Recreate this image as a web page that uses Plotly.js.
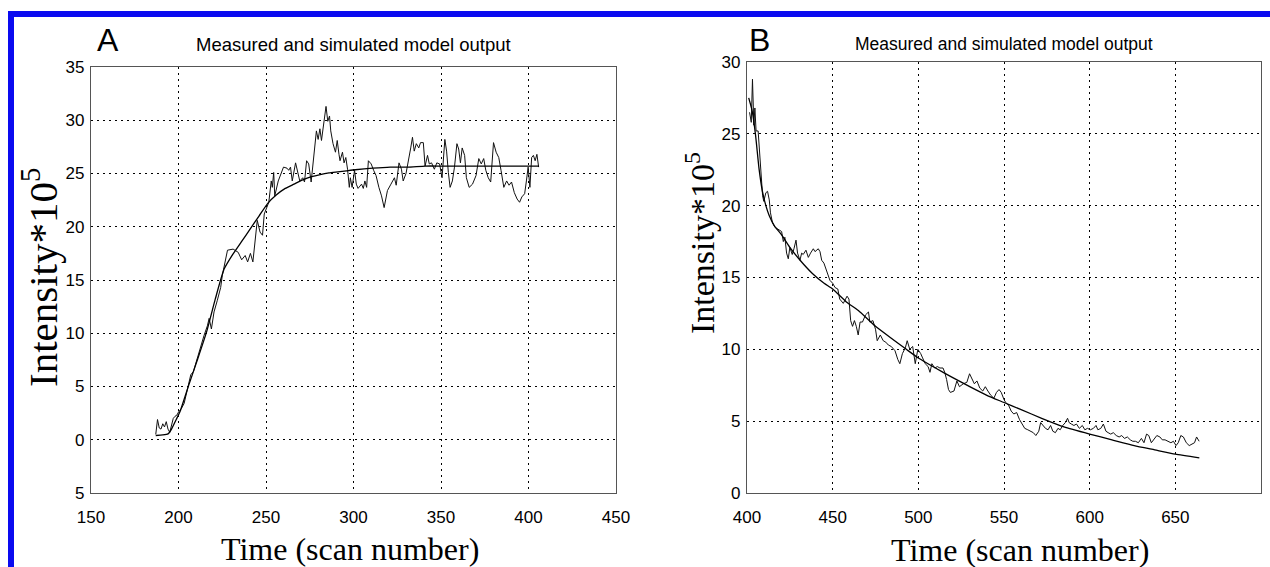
<!DOCTYPE html>
<html>
<head>
<meta charset="utf-8">
<script src="https://cdn.plot.ly/plotly-3.0.1.min.js"></script>
<style>html,body{margin:0;padding:0;background:#fff;}#chart{width:1270px;height:567px;}</style>
</head>
<body>
<div id="chart"></div>
<script>
// ---------- Panel A data ----------
const aMeasuredX = [187,188,189,190,191,192,193,194,195,196,197,198,199,200,201.5,203.2,205,206,207,208.5,209.9,211.8,213.7,214.6,216.5,217.5,218.8,220.3,222.2,224.1,225,226.9,228,231.2,234.1,236.1,238.1,239.5,241.1,242.5,244,245,246.6,248,249,250.4,251.6,253,253.6,254.4,255,257,260,262,263,264,265,266.9,268,269.3,271,272,273.2,274.4,275.8,277.8,278.8,279.8,280.8,281.7,282.7,284.3,285.3,286.3,287,288.3,289.7,290.7,291.7,292.3,293.7,294.6,295.6,296.6,297.6,298.2,299.2,300.6,301.6,302.6,304.6,305.6,306.5,307.5,308.5,310.1,311.5,312.9,314.5,316,317.5,318.5,319.4,321.4,323.4,324.4,326,327.4,328.4,330,331.3,332.7,333.7,334.7,335.9,337.3,338.3,339.9,340.9,342.3,343.3,344.6,346.2,347.6,349.2,350.6,352.2,353.2,354.2,355.2,356.5,357.7,359.1,360.1,361.1,362.1,363.5,364.5,366.1,368,370,371.6,373,374.4,375.6,377,378.4,380,381.5,383,384.3,385.9,387.5,388.9,390.3,391.9,393.5,394.9,396.2,397.8,398.8,399.8,400.8,401.8,402.8,403.8,404.8,405.8];
const aMeasuredY = [0.5,1.9,1.1,1.0,1.5,1.2,1.7,1.0,0.7,1.3,2.0,2.2,2.3,2.6,2.9,3.4,4.6,5.3,6.1,6.4,7.2,8.1,9.2,9.8,10.7,11.4,10.4,12.0,13.1,14.3,15.4,16.8,17.8,17.9,17.6,16.9,17.3,16.7,17.5,16.7,19.0,20.6,19.5,19.2,21.2,21.8,22.3,24.3,23.7,25.1,22.9,24.3,25.6,25.5,25.3,25.6,24.3,26.0,25.3,24.3,24.6,24.2,26.2,25.9,24.2,27.4,29.0,28.2,29.2,28.1,29.3,31.3,29.9,30.4,29.0,27.8,27.0,28.1,26.8,26.2,27.0,26.0,26.5,25.4,23.7,24.6,23.7,25.3,24.0,23.6,24.0,23.6,24.3,23.7,26.2,25.9,25.3,24.8,23.7,22.9,21.8,22.5,23.4,24.0,24.6,23.9,26.0,25.4,24.3,25.0,26.0,27.4,28.4,27.1,27.8,27.4,27.9,27.9,25.7,26.7,25.9,26.0,25.4,26.0,25.9,24.6,28.2,27.1,25.1,23.7,24.3,25.6,27.8,27.3,26.0,27.4,26.7,24.6,23.7,24.0,24.8,26.4,25.9,26.4,25.3,24.6,24.2,27.9,27.0,26.5,25.3,23.7,24.3,23.9,24.2,23.2,22.6,22.3,22.8,23.1,24.3,25.6,23.7,26.5,26.7,26.2,26.8,25.6];
const aModelX = [187,191,194,196,198.7,201,206,211,216,221,226,231,236,241,246,251,256,261,266,271,276,281,286,291,296,301,311,321,331,341,351,371,391,406];
const aModelY = [0.4,0.45,0.55,1.0,1.9,2.7,5.2,7.6,10.1,13.2,16.0,17.4,18.6,19.8,21.0,22.2,23.0,23.6,24.0,24.4,24.7,24.9,25.05,25.15,25.25,25.35,25.5,25.6,25.6,25.7,25.7,25.7,25.7,25.7];
const aXTicks = [150,200,250,300,350,400,450];
const aYTicks = [-5,0,5,10,15,20,25,30,35];
const aYTickText = ['5','0','5','10','15','20','25','30','35'];

// ---------- Panel B data ----------
const bMeasuredX = [401.5,402.5,403.2,404,404.6,405.3,406.5,407.1,407.9,408.5,409.1,409.8,411,412,413,413.7,414.9,416.3,417.6,419.2,420.2,421.2,422.1,423.1,424.1,425,426.4,427.4,428.6,429.5,430.9,431.9,432.8,434.4,435.8,437.1,438.7,439.7,440.6,441.6,442.6,443.6,444.9,446.1,446.9,448.4,450,451.4,453,454.1,456.2,458.4,459.5,460.5,461.6,462.7,463.8,464.9,466,467.4,469.2,470.9,471.7,473.5,475,476,477.8,479.5,481,482.5,484.2,486.4,488,489.2,490.7,492.4,493.5,495,496.7,498.2,499.7,501.4,502.5,504,505.7,506.8,507.9,509.6,511.1,512.6,514.4,515.4,516.5,517.6,518.7,520.8,522.5,524,526.2,528.3,529.9,531.1,532.7,534.2,535.9,537.6,539.1,540.6,542.3,544.1,545.6,547.1,548.4,550,551,552.7,554.2,555.7,557.4,559.1,560.6,562.1,563.9,565.6,567.1,568.6,570.3,571.4,572.9,574.2,575.7,577.2,578.5,580,581.5,582.8,584.3,585.8,587.1,588,589.3,590.8,592.3,594,595.7,597.2,598.7,600.4,602.2,603.7,604.8,606.5,608,609.5,610.8,612.3,613.8,615.5,617.2,618.7,620.3,622,623.7,625.2,626.7,628.4,630.2,631.7,633.2,634.5,636,637.5,639.2,641,642.4,644,645.6,647.4,648.9,650.4,651.7,653.2,654.7,656.4,658.1,659.6,661.2,662.4,663.9];
const bMeasuredY = [26.5,25.8,28.8,25.6,26.8,25.2,25.2,24.1,23.2,22.0,20.7,20.3,20.9,21.0,20.4,19.5,18.8,18.5,18.4,18.3,18.2,17.5,17.8,16.7,16.3,17.1,16.6,17.0,17.6,16.7,16.2,16.7,16.6,16.9,16.4,16.7,17.0,16.8,16.9,17.0,16.8,16.2,16.0,15.6,15.3,14.8,14.6,14.3,14.2,13.5,13.2,13.7,13.5,12.0,11.6,12.0,11.6,11.0,11.9,11.9,12.4,12.6,11.9,12.0,11.4,10.6,11.0,10.6,10.5,10.3,10.2,9.9,9.3,9.0,9.7,10.1,10.6,10.0,10.2,9.0,10.0,9.7,9.4,9.0,8.8,8.4,9.0,8.7,8.8,8.7,8.7,8.4,7.9,7.2,7.0,7.1,7.8,7.4,7.6,7.7,8.3,8.0,7.6,7.8,7.3,7.1,7.4,7.1,6.8,6.6,7.0,7.2,7.0,6.5,6.3,6.1,5.7,5.5,5.6,5.1,4.8,4.5,4.4,4.3,4.2,4.0,4.3,4.9,4.7,4.5,4.4,4.7,4.3,4.2,4.5,4.4,4.7,4.9,5.2,4.9,4.8,4.7,4.8,4.5,4.7,4.4,4.5,4.4,4.5,4.7,4.4,4.5,4.8,4.3,4.2,4.1,4.2,4.0,3.9,4.0,3.8,3.9,3.7,3.6,3.6,3.5,3.8,3.5,4.1,4.0,3.5,3.7,4.0,3.9,3.7,3.7,3.6,3.5,3.6,3.3,3.5,4.0,3.9,3.5,3.3,3.4,3.5,3.9,3.6];
const bModelX = [401,403,405,407,409,411,413,416,420,425,431,438,445,450,458,465,475,485,493,500,510,519,530,540,550,560,572,585,600,613,626,638,650,664];
const bModelY = [27.5,26.6,24.9,22.6,21.0,20.0,19.3,18.6,18.0,17.1,16.2,15.3,14.6,14.2,13.3,12.7,11.6,10.7,10.0,9.4,8.7,8.1,7.4,6.8,6.3,5.8,5.2,4.6,4.1,3.7,3.3,3.0,2.7,2.45];
const bXTicks = [400,450,500,550,600,650,700];
const bYTicks = [0,5,10,15,20,25,30];

// ---------- Texts ----------
const panelLetters = ['A', 'B'];
const plotTitle = 'Measured and simulated model output';
const xTitle = 'Time (scan number)';
const yTitle = 'Intensity*10<sup>5</sup>';

const W = 1270, H = 567;
const px = v => v / W;
const py = v => 1 - v / H;

const sans = 'Arial, "Liberation Sans", Helvetica, sans-serif';
const serif = '"Times New Roman", "Liberation Serif", Times, serif';

const traces = [
  {x: aMeasuredX, y: aMeasuredY, xaxis: 'x', yaxis: 'y', mode: 'lines', name: 'Measured',
   line: {color: '#111', width: 1}},
  {x: aModelX, y: aModelY, xaxis: 'x', yaxis: 'y', mode: 'lines', name: 'Simulated',
   line: {color: '#000', width: 1.3, shape: 'spline', smoothing: 0.5}},
  {x: bMeasuredX, y: bMeasuredY, xaxis: 'x2', yaxis: 'y2', mode: 'lines', name: 'Measured',
   line: {color: '#111', width: 1}},
  {x: bModelX, y: bModelY, xaxis: 'x2', yaxis: 'y2', mode: 'lines', name: 'Simulated',
   line: {color: '#000', width: 1.3, shape: 'spline', smoothing: 0.5}}
];

const axisCommon = {
  showline: true, mirror: true, linecolor: '#555', linewidth: 1.2,
  showgrid: true, gridcolor: '#000', gridwidth: 1, griddash: '2px,4px',
  zeroline: false, ticks: '', tickfont: {family: sans, size: 17, color: '#000'},
  fixedrange: true
};

const layout = {
  width: W, height: H,
  margin: {l: 0, r: 0, t: 0, b: 0},
  paper_bgcolor: '#fff', plot_bgcolor: '#fff',
  showlegend: false,
  xaxis: Object.assign({}, axisCommon, {domain: [px(91), px(616)], range: [150, 450], anchor: 'y',
    tickmode: 'array', tickvals: aXTicks, ticklabelstandoff: 8}),
  yaxis: Object.assign({}, axisCommon, {domain: [py(493), py(67)], range: [-5, 35], anchor: 'x',
    tickmode: 'array', tickvals: aYTicks, ticktext: aYTickText, ticklabelstandoff: 2}),
  xaxis2: Object.assign({}, axisCommon, {domain: [px(747), px(1261)], range: [400, 700], anchor: 'y2',
    tickmode: 'array', tickvals: bXTicks, ticklabelstandoff: 8}),
  yaxis2: Object.assign({}, axisCommon, {domain: [py(493), py(62)], range: [0, 30], anchor: 'x2',
    tickmode: 'array', tickvals: bYTicks, ticklabelstandoff: 2}),
  shapes: [
    {type: 'rect', xref: 'paper', yref: 'paper', x0: px(8), x1: 1, y0: py(17), y1: py(11),
     fillcolor: '#0a0af0', line: {width: 0}},
    {type: 'rect', xref: 'paper', yref: 'paper', x0: px(8), x1: px(14), y0: 0, y1: py(11),
     fillcolor: '#0a0af0', line: {width: 0}}
  ],
  annotations: [
    {text: panelLetters[0], x: px(108), y: py(40), xref: 'paper', yref: 'paper', showarrow: false,
     xanchor: 'center', yanchor: 'middle', font: {family: sans, size: 32, color: '#000'}},
    {text: panelLetters[1], x: px(759), y: py(40), xref: 'paper', yref: 'paper', showarrow: false,
     xanchor: 'center', yanchor: 'middle', font: {family: sans, size: 32, color: '#000'}},
    {text: plotTitle, x: px(353), y: py(45), xref: 'paper', yref: 'paper', showarrow: false,
     xanchor: 'center', yanchor: 'middle', font: {family: sans, size: 18.5, color: '#000'}},
    {text: plotTitle, x: px(1004), y: py(44), xref: 'paper', yref: 'paper', showarrow: false,
     xanchor: 'center', yanchor: 'middle', font: {family: sans, size: 17.5, color: '#000'}},
    {text: xTitle, x: px(350), y: py(549), xref: 'paper', yref: 'paper', showarrow: false,
     xanchor: 'center', yanchor: 'middle', font: {family: serif, size: 32, color: '#000'}},
    {text: xTitle, x: px(1020), y: py(550), xref: 'paper', yref: 'paper', showarrow: false,
     xanchor: 'center', yanchor: 'middle', font: {family: serif, size: 32, color: '#000'}},
    {text: yTitle, x: px(40), y: py(278), xref: 'paper', yref: 'paper', showarrow: false, textangle: -90,
     xanchor: 'center', yanchor: 'middle', font: {family: serif, size: 41, color: '#000'}},
    {text: yTitle, x: px(700), y: py(243), xref: 'paper', yref: 'paper', showarrow: false, textangle: -90,
     xanchor: 'center', yanchor: 'middle', font: {family: serif, size: 34, color: '#000'}}
  ]
};

Plotly.newPlot('chart', traces, layout, {displayModeBar: false, staticPlot: true});
</script>
</body>
</html>
